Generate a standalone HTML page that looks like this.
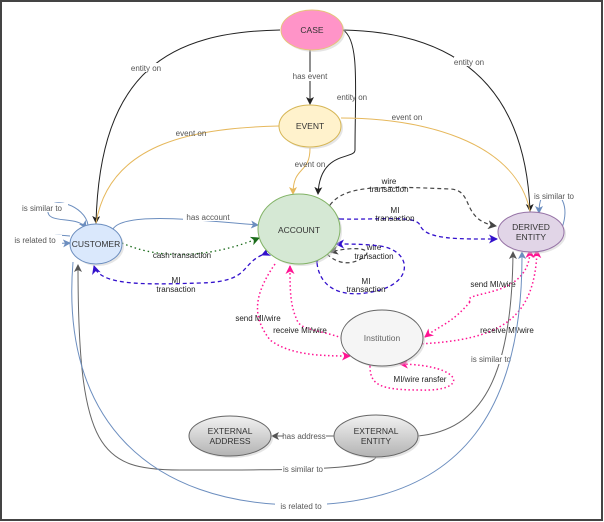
<!DOCTYPE html>
<html><head><meta charset="utf-8"><style>
html,body{margin:0;padding:0;background:#fff}
svg{display:block;font-family:"Liberation Sans",sans-serif}
.l{font-size:8px;fill:#222;text-anchor:middle}
.g{font-size:8px;fill:#555;text-anchor:middle}
.n{font-size:8.5px;fill:#333;text-anchor:middle}
</style></head><body>
<svg width="604" height="522" viewBox="0 0 604 522" xmlns="http://www.w3.org/2000/svg">
<defs>
<linearGradient id="gr" x1="0" y1="0" x2="0" y2="1"><stop offset="0" stop-color="#f2f2f2"/><stop offset="1" stop-color="#b3b3b3"/></linearGradient>
<marker id="ak" markerWidth="8" markerHeight="8" refX="7" refY="4" orient="auto" markerUnits="userSpaceOnUse"><path d="M0,0 L8,4 L0,8 L2,4z" fill="#222"/></marker>
<marker id="ag" markerWidth="8" markerHeight="8" refX="7" refY="4" orient="auto" markerUnits="userSpaceOnUse"><path d="M0,0 L8,4 L0,8 L2,4z" fill="#555"/></marker>
<marker id="ab" markerWidth="8" markerHeight="8" refX="7" refY="4" orient="auto" markerUnits="userSpaceOnUse"><path d="M0,0 L8,4 L0,8 L2,4z" fill="#6c8ebf"/></marker>
<marker id="ay" markerWidth="8" markerHeight="8" refX="7" refY="4" orient="auto" markerUnits="userSpaceOnUse"><path d="M0,0 L8,4 L0,8 L2,4z" fill="#e6b85c"/></marker>
<marker id="ap" markerWidth="9" markerHeight="9" refX="8" refY="4.5" orient="auto" markerUnits="userSpaceOnUse"><path d="M0,0 L9,4.5 L0,9 L2.5,4.5z" fill="#3311cc"/></marker>
<marker id="am" markerWidth="9" markerHeight="9" refX="8" refY="4.5" orient="auto" markerUnits="userSpaceOnUse"><path d="M0,0 L9,4.5 L0,9 L2.5,4.5z" fill="#ff1493"/></marker>
<marker id="aG" markerWidth="9" markerHeight="9" refX="8" refY="4.5" orient="auto" markerUnits="userSpaceOnUse"><path d="M0,0 L9,4.5 L0,9 L2.5,4.5z" fill="#1a6b1a"/></marker>
<marker id="aD" markerWidth="9" markerHeight="9" refX="8" refY="4.5" orient="auto" markerUnits="userSpaceOnUse"><path d="M0,0 L9,4.5 L0,9 L2.5,4.5z" fill="#444"/></marker>
</defs>
<rect x="1" y="1" width="601" height="519" fill="#fff" stroke="#444" stroke-width="2"/>

<!-- entity on edges -->
<path d="M280,30 C170,32 100,70 96,223" fill="none" stroke="#222" stroke-width="1" marker-end="url(#ak)"/>
<path d="M343,30 C450,32 525,80 530,211" fill="none" stroke="#222" stroke-width="1" marker-end="url(#ak)"/>
<path d="M343,30 C360,40 355,90 355,150 C355,160 320,150 318,194" fill="none" stroke="#222" stroke-width="1" marker-end="url(#ak)"/>
<path d="M310,50 L310,104" fill="none" stroke="#222" stroke-width="1" marker-end="url(#ak)"/>
<!-- event on -->
<path d="M279,126 C200,128 110,140 96,223" fill="none" stroke="#e6b85c" stroke-width="1"/>
<path d="M341,118 C420,118 515,140 530,211" fill="none" stroke="#e6b85c" stroke-width="1"/>
<path d="M310,148 C310,175 293,165 293,194" fill="none" stroke="#e6b85c" stroke-width="1" marker-end="url(#ay)"/>
<rect x="131" y="63" width="30" height="9" fill="#fff"/><text class="g" x="146" y="71">entity on</text>
<rect x="454" y="57" width="30" height="9" fill="#fff"/><text class="g" x="469" y="65">entity on</text>
<text class="g" x="352" y="100">entity on</text>
<rect x="292" y="72" width="36" height="9" fill="#fff"/><text class="g" x="310" y="79">has event</text>
<text class="g" x="191" y="136">event on</text>
<text class="g" x="407" y="120">event on</text>
<text class="g" x="310" y="167">event on</text>

<!-- customer self loops -->
<path d="M88,225 C85,205 50,195 48,210 C46,225 78,215 86,228" fill="none" stroke="#6c8ebf" stroke-width="1" marker-end="url(#ab)"/>
<path d="M70,236 C40,232 35,245 70,243" fill="none" stroke="#6c8ebf" stroke-width="1" marker-end="url(#ab)"/>
<rect x="16" y="203" width="52" height="9" fill="#fff"/><text class="g" x="42" y="211">is similar to</text>
<rect x="10" y="235" width="52" height="9" fill="#fff"/><text class="g" x="35" y="243">is related to</text>
<!-- has account -->
<path d="M113,229 C125,210 215,222 258,225" fill="none" stroke="#6c8ebf" stroke-width="1" marker-end="url(#ab)"/>
<rect x="183" y="212" width="48" height="9" fill="#fff"/><text class="g" x="208" y="220">has account</text>
<!-- cash -->
<path d="M122,243 C160,260 210,258 259,238" fill="none" stroke="#1a6b1a" stroke-width="1.3" stroke-dasharray="1.5,3" marker-end="url(#aG)"/>
<text class="l" x="182" y="258">cash transaction</text>
<!-- MI customer -->
<path d="M262,255 C240,265 250,282 200,283 C140,285 100,285 94,266" fill="none" stroke="#3311cc" stroke-width="1.3" stroke-dasharray="4,3" marker-start="url(#ap)" marker-end="url(#ap)"/>
<text class="l" x="176" y="283">MI</text><text class="l" x="176" y="292">transaction</text>

<!-- account to derived -->
<path d="M330,205 C345,185 380,186 450,189 C475,190 460,220 496,226" fill="none" stroke="#444" stroke-width="1.2" stroke-dasharray="4,3" marker-start="url(#aD)" marker-end="url(#aD)"/>
<text class="l" x="389" y="184">wire</text><text class="l" x="389" y="192">transaction</text>
<path d="M340,219 C380,220 415,215 420,225 C425,240 460,239 497,239" fill="none" stroke="#3311cc" stroke-width="1.3" stroke-dasharray="4,3" marker-start="url(#ap)" marker-end="url(#ap)"/>
<text class="l" x="395" y="213">MI</text><text class="l" x="395" y="221">transaction</text>
<!-- account self loops -->
<path d="M327,254 C335,262 350,268 365,256 C372,250 360,245 330,252" fill="none" stroke="#444" stroke-width="1.2" stroke-dasharray="4,3" marker-start="url(#aD)" marker-end="url(#aD)"/>
<text class="l" x="374" y="250">wire</text><text class="l" x="374" y="259">transaction</text>
<path d="M317,263 C320,290 345,300 380,290 C415,280 410,250 380,246 C365,244 350,244 336,244" fill="none" stroke="#3311cc" stroke-width="1.3" stroke-dasharray="4,3" marker-start="url(#ap)" marker-end="url(#ap)"/>
<text class="l" x="366" y="284">MI</text><text class="l" x="366" y="292">transaction</text>

<!-- derived self loop -->
<path d="M562,228 C570,205 560,190 548,192 C540,194 539,205 539,213" fill="none" stroke="#6c8ebf" stroke-width="1" marker-end="url(#ab)"/>
<rect x="530" y="191" width="48" height="9" fill="#fff"/><text class="g" x="554" y="199">is similar to</text>

<!-- pink -->
<path d="M256,332 L256,332" />
<path d="M275,264 C250,300 255,320 270,340 C290,355 320,356 350,356" fill="none" stroke="#ff1493" stroke-width="1.5" stroke-dasharray="1.5,2.5" marker-end="url(#am)"/>
<text class="l" x="258" y="321">send MI/wire</text>
<path d="M342,338 C320,330 300,330 297,320 C290,305 290,290 290,266" fill="none" stroke="#ff1493" stroke-width="1.5" stroke-dasharray="1.5,2.5" marker-end="url(#am)"/>
<text class="l" x="300" y="333">receive MI/wire</text>
<path d="M470,302 C460,290 530,300 530,250" fill="none" stroke="#ff1493" stroke-width="1.5" stroke-dasharray="1.5,2.5" marker-end="url(#am)"/>
<path d="M470,302 C450,325 440,325 425,337" fill="none" stroke="#ff1493" stroke-width="1.5" stroke-dasharray="1.5,2.5" marker-end="url(#am)"/>
<text class="l" x="493" y="287">send MI/wire</text>
<path d="M418,344 C500,340 535,320 537,250" fill="none" stroke="#ff1493" stroke-width="1.5" stroke-dasharray="1.5,2.5" marker-end="url(#am)"/>
<text class="l" x="507" y="333">receive MI/wire</text>
<path d="M370,366 C370,385 380,390 420,390 C470,392 465,365 400,364" fill="none" stroke="#ff1493" stroke-width="1.5" stroke-dasharray="1.5,2.5" marker-start="url(#am)" marker-end="url(#am)"/>
<text class="l" x="420" y="382">MI/wire ransfer</text>

<!-- external edges -->
<path d="M418,436 C480,430 512,380 513,252" fill="none" stroke="#666" stroke-width="1" marker-end="url(#ag)"/>
<path d="M376,457 C370,470 300,470 180,470 C100,470 78,450 78,265" fill="none" stroke="#666" stroke-width="1" marker-end="url(#ag)"/>
<rect x="282" y="465" width="42" height="9" fill="#fff"/><text class="g" x="303" y="472">is similar to</text>
<rect x="470" y="355" width="42" height="9" fill="#fff"/><text class="g" x="491" y="362">is similar to</text>
<path d="M73,262 C60,420 150,505 300,505 C470,505 523,400 522,252" fill="none" stroke="#6c8ebf" stroke-width="1" marker-end="url(#ab)"/>
<rect x="275" y="501" width="52" height="9" fill="#fff"/><text class="g" x="301" y="509">is related to</text>
<path d="M334,436 L272,436" fill="none" stroke="#666" stroke-width="1" marker-end="url(#ag)"/>
<rect x="283" y="431" width="43" height="9" fill="#fff"/><text class="g" x="304" y="439">has address</text>

<!-- nodes -->
<g filter="none">
<ellipse cx="314" cy="32" rx="31" ry="20" fill="#ccc" opacity=".5"/>
<ellipse cx="312" cy="30" rx="31" ry="20" fill="#ff94c8" stroke="#e6c37a"/>
<text class="n" x="312" y="33">CASE</text>
<ellipse cx="312" cy="128" rx="31" ry="21" fill="#ccc" opacity=".5"/>
<ellipse cx="310" cy="126" rx="31" ry="21" fill="#fff2cc" stroke="#d6b656"/>
<text class="n" x="310" y="129">EVENT</text>
<ellipse cx="301" cy="231" rx="41" ry="35" fill="#ccc" opacity=".5"/>
<ellipse cx="299" cy="229" rx="41" ry="35" fill="#d5e8d4" stroke="#82b366"/>
<text class="n" x="299" y="233">ACCOUNT</text>
<ellipse cx="98" cy="246" rx="26" ry="20" fill="#ccc" opacity=".5"/>
<ellipse cx="96" cy="244" rx="26" ry="20" fill="#dae8fc" stroke="#6c8ebf"/>
<text class="n" x="96" y="247">CUSTOMER</text>
<ellipse cx="533" cy="234" rx="33" ry="20" fill="#ccc" opacity=".5"/>
<ellipse cx="531" cy="232" rx="33" ry="20" fill="#e1d5e7" stroke="#9673a6"/>
<text class="n" x="531" y="230">DERIVED</text><text class="n" x="531" y="240">ENTITY</text>
<ellipse cx="384" cy="340" rx="41" ry="28" fill="#ccc" opacity=".5"/>
<ellipse cx="382" cy="338" rx="41" ry="28" fill="#f5f5f5" stroke="#666"/>
<text class="n" x="382" y="341" style="fill:#666">Institution</text>
<ellipse cx="232" cy="438" rx="41" ry="20" fill="#ccc" opacity=".5"/>
<ellipse cx="230" cy="436" rx="41" ry="20" fill="url(#gr)" stroke="#666"/>
<text class="n" x="230" y="434">EXTERNAL</text><text class="n" x="230" y="444">ADDRESS</text>
<ellipse cx="378" cy="438" rx="42" ry="21" fill="#ccc" opacity=".5"/>
<ellipse cx="376" cy="436" rx="42" ry="21" fill="url(#gr)" stroke="#666"/>
<text class="n" x="376" y="434">EXTERNAL</text><text class="n" x="376" y="444">ENTITY</text>
</g>
</svg>
</body></html>
